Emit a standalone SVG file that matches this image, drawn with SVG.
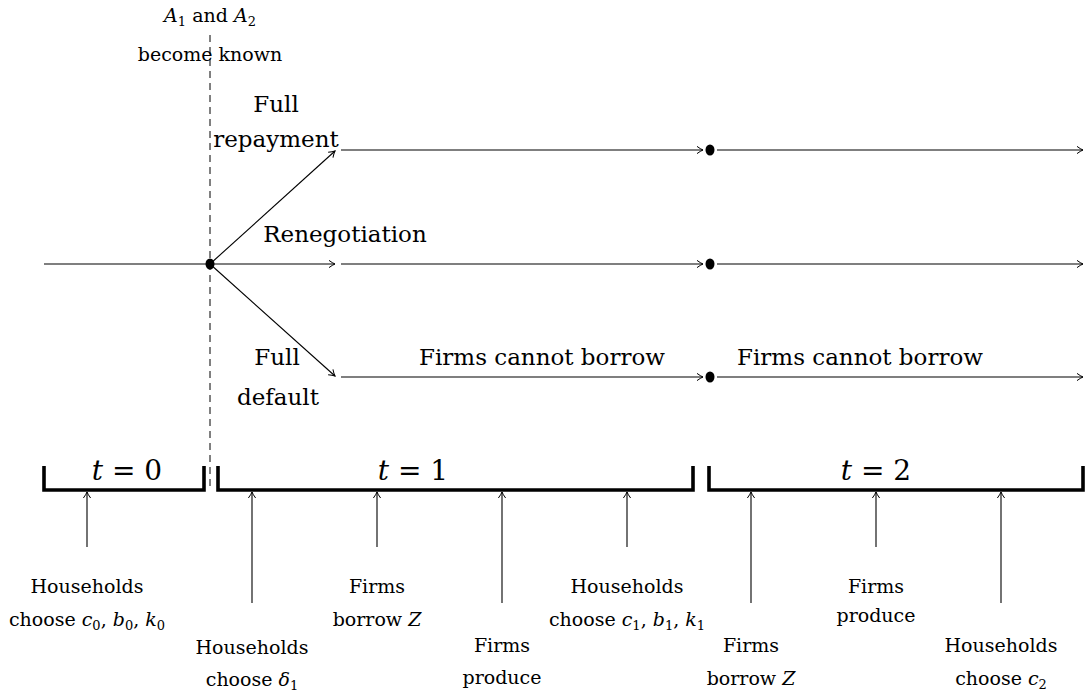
<svg xmlns="http://www.w3.org/2000/svg" width="1087" height="693" viewBox="0 0 1087 693" font-family="DejaVu Serif, serif">
<style>
text{fill:#000;text-anchor:middle}
.sm{font-size:19px}
.big{font-size:23px}
.t{font-size:28px}
.i{font-style:italic}
.ln{stroke:#000;stroke-width:1.1;fill:none}
.br{stroke:#000;stroke-width:3.6;fill:none;stroke-linejoin:miter}
.dash{stroke:#000;stroke-width:1;stroke-dasharray:7 5;fill:none}
</style>
<defs>
<marker id="arr" viewBox="-8 -5 10 10" refX="0" refY="0" markerWidth="10" markerHeight="10" markerUnits="userSpaceOnUse" orient="auto">
<path d="M-6,-3.6 Q-2.5,-1 0,0 Q-2.5,1 -6,3.6" fill="none" stroke="#000" stroke-width="1"/>
</marker>
</defs>
<rect width="1087" height="693" fill="#fff"/>

<g id="info">
<text class="sm" x="210" y="22"><tspan class="i">A</tspan><tspan font-size="13" dy="4">1</tspan><tspan dy="-4"> and </tspan><tspan class="i">A</tspan><tspan font-size="13" dy="4">2</tspan></text>
<text class="sm" x="210" y="61">become known</text>
<line class="dash" x1="210" y1="35" x2="210" y2="490"/>
</g>

<g id="connectors">
<line class="ln" x1="44" y1="264" x2="210" y2="264"/>
<line class="ln" x1="210" y1="264" x2="335" y2="151" marker-end="url(#arr)"/>
<line class="ln" x1="210" y1="264" x2="335" y2="264" marker-end="url(#arr)"/>
<line class="ln" x1="210" y1="264" x2="335" y2="376" marker-end="url(#arr)"/>
<line class="ln" x1="341" y1="150" x2="703" y2="150" marker-end="url(#arr)"/>
<line class="ln" x1="341" y1="264" x2="703" y2="264" marker-end="url(#arr)"/>
<line class="ln" x1="341" y1="377" x2="703" y2="377" marker-end="url(#arr)"/>
<line class="ln" x1="717" y1="150" x2="1083" y2="150" marker-end="url(#arr)"/>
<line class="ln" x1="717" y1="264" x2="1083" y2="264" marker-end="url(#arr)"/>
<line class="ln" x1="717" y1="377" x2="1083" y2="377" marker-end="url(#arr)"/>
<line class="ln" x1="87" y1="547" x2="87" y2="492" marker-end="url(#arr)"/>
<line class="ln" x1="252" y1="603" x2="252" y2="492" marker-end="url(#arr)"/>
<line class="ln" x1="377" y1="547" x2="377" y2="492" marker-end="url(#arr)"/>
<line class="ln" x1="502" y1="603" x2="502" y2="492" marker-end="url(#arr)"/>
<line class="ln" x1="627" y1="547" x2="627" y2="492" marker-end="url(#arr)"/>
<line class="ln" x1="751" y1="603" x2="751" y2="492" marker-end="url(#arr)"/>
<line class="ln" x1="876" y1="547" x2="876" y2="492" marker-end="url(#arr)"/>
<line class="ln" x1="1001" y1="603" x2="1001" y2="492" marker-end="url(#arr)"/>
</g>

<g id="dots">
<ellipse cx="210" cy="264" rx="4.5" ry="5.5"/>
<ellipse cx="710" cy="150" rx="4.5" ry="5.5"/>
<ellipse cx="710" cy="264" rx="4.5" ry="5.5"/>
<ellipse cx="710" cy="377" rx="4.5" ry="5.5"/>
</g>

<g id="branch-labels">
<text class="big" x="276" y="112">Full</text>
<text class="big" x="276" y="147">repayment</text>
<text class="big" x="345" y="242">Renegotiation</text>
<text class="big" x="277" y="365">Full</text>
<text class="big" x="278" y="405">default</text>
<text class="big" x="542" y="365">Firms cannot borrow</text>
<text class="big" x="860" y="365">Firms cannot borrow</text>
</g>

<g id="period0">
<path class="br" d="M44,466 V490 H204 V466"/>
<text class="t" x="127" y="480"><tspan class="i">t</tspan> = 0</text>
</g>
<g id="period1">
<path class="br" d="M218,466 V490 H693 V466"/>
<text class="t" x="413" y="480"><tspan class="i">t</tspan> = 1</text>
</g>
<g id="period2">
<path class="br" d="M709,466 V490 H1083 V466"/>
<text class="t" x="876" y="480"><tspan class="i">t</tspan> = 2</text>
</g>

<g id="ev-h0">
<text class="sm" x="87" y="593">Households</text>
<text class="sm" x="87" y="626">choose <tspan class="i">c</tspan><tspan font-size="13" dy="4">0</tspan><tspan dy="-4">, </tspan><tspan class="i">b</tspan><tspan font-size="13" dy="4">0</tspan><tspan dy="-4">, </tspan><tspan class="i">k</tspan><tspan font-size="13" dy="4">0</tspan></text>
</g>
<g id="ev-h1a">
<text class="sm" x="252" y="654">Households</text>
<text class="sm" x="252" y="686">choose <tspan class="i">δ</tspan><tspan font-size="13" dy="4">1</tspan></text>
</g>
<g id="ev-f1b">
<text class="sm" x="377" y="593">Firms</text>
<text class="sm" x="377" y="626">borrow <tspan class="i">Z</tspan></text>
</g>
<g id="ev-f1p">
<text class="sm" x="502" y="652">Firms</text>
<text class="sm" x="502" y="684">produce</text>
</g>
<g id="ev-h1b">
<text class="sm" x="627" y="593">Households</text>
<text class="sm" x="627" y="626">choose <tspan class="i">c</tspan><tspan font-size="13" dy="4">1</tspan><tspan dy="-4">, </tspan><tspan class="i">b</tspan><tspan font-size="13" dy="4">1</tspan><tspan dy="-4">, </tspan><tspan class="i">k</tspan><tspan font-size="13" dy="4">1</tspan></text>
</g>
<g id="ev-f2b">
<text class="sm" x="751" y="652">Firms</text>
<text class="sm" x="751" y="685">borrow <tspan class="i">Z</tspan></text>
</g>
<g id="ev-f2p">
<text class="sm" x="876" y="593">Firms</text>
<text class="sm" x="876" y="622">produce</text>
</g>
<g id="ev-h2">
<text class="sm" x="1001" y="652">Households</text>
<text class="sm" x="1001" y="685">choose <tspan class="i">c</tspan><tspan font-size="13" dy="4">2</tspan></text>
</g>
</svg>
